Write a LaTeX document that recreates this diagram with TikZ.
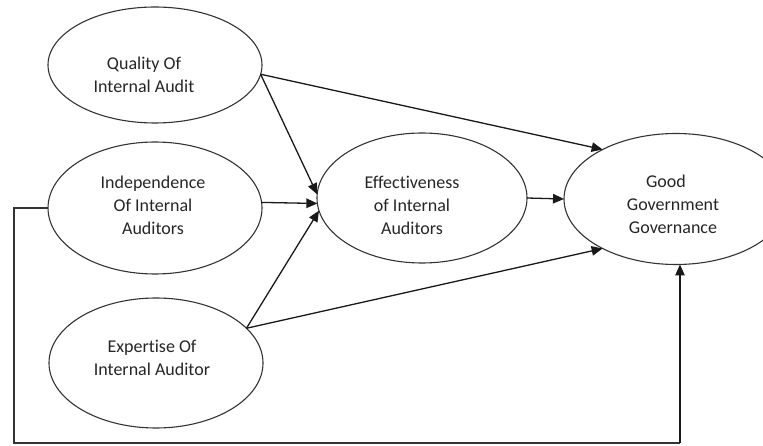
\documentclass[tikz,border=0pt]{standalone}
\usepackage{fontspec}
\setmainfont{Carlito}[Ligatures={NoCommon}]
\usetikzlibrary{arrows.meta,shapes.geometric}
\begin{document}
\begin{tikzpicture}[x=1pt,y=-1pt,
  oval/.style={draw=black!80, line width=1.1pt, ellipse, inner sep=0pt, outer sep=0pt,
    minimum width=214pt, minimum height=130pt},
  txt/.style={font=\fontsize{18}{23}\selectfont, align=center, text=black!85},
  conn/.style={draw=black!90, line width=1.3pt, -{Triangle[length=11pt,width=9.5pt]}},
  plain/.style={draw=black!80, line width=1.1pt}]
\useasboundingbox (0,0) rectangle (763,446);
% ellipses
\node[oval, minimum height=116pt] (q) at (155,65) {};
\node[oval, minimum height=132pt] (i) at (155,208) {};
\node[oval, minimum width=210pt] (e) at (422,198) {};
\node[oval, minimum width=224pt, minimum height=131pt] (g) at (676,199) {};
\node[oval] (x) at (156,363) {};
% texts
\node[txt] (qt) at (144,75) {Quality Of\\Internal Audit};
\node[txt] (it) at (153,205) {Independence\\Of Internal\\Auditors};
\node[txt] (et) at (412,205) {Effectiveness\\of Internal\\Auditors};
\node[txt] (gt) at (673,204) {Good\hspace*{14pt}\\Government\\Governance};
\node[txt] (xt) at (152,358) {Expertise Of\\Internal Auditor};
% connectors
\draw[conn] (q.-5) -- (g.146);
\draw[conn] (q.-5) -- (e.178);
\draw[conn] (i.3) -- (e.-177);
\draw[conn] (x.21) -- (e.-173);
\draw[conn] (x.21) -- (g.-146);
\draw[conn] (e.east) -- (g.west);
% feedback loop
\coordinate (fa) at (14,443);
\coordinate (fb) at (680,443);
\draw[plain] (i.west) -| (fa) -- (fb);
\draw[conn, line width=1.1pt] (fb) -- (fb |- g.south);
\end{tikzpicture}
\end{document}
